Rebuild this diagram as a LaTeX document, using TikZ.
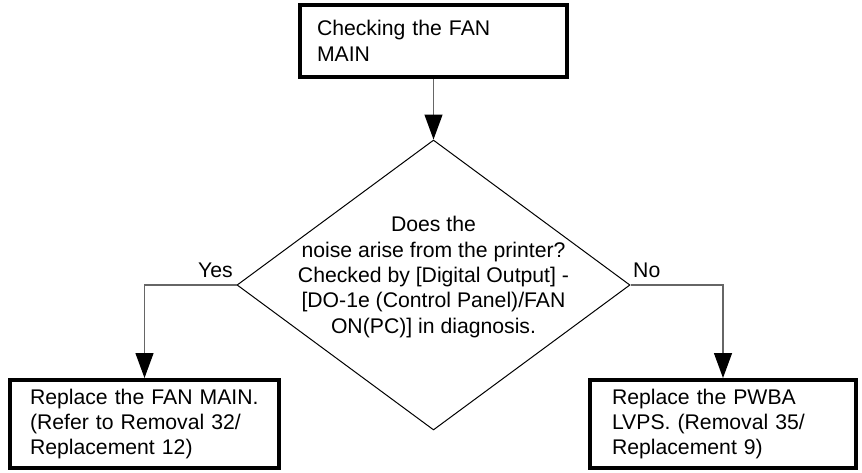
\documentclass[tikz,border=0pt]{standalone}
\usepackage{fontspec}
\setmainfont{Liberation Sans}
\usetikzlibrary{shapes.geometric,arrows.meta}
\begin{document}
\begin{tikzpicture}[x=1pt,y=-1pt,
  txt/.style={font=\fontsize{21.2pt}{25.4pt}\selectfont},
  box/.style={txt, draw=black, line width=4pt, rectangle, align=left, inner ysep=0pt},
  decision/.style={diamond, draw=black, line width=1pt, inner sep=0pt},
  conn/.style={draw=black!60, line width=1.3pt, -{Triangle[length=25pt,width=18pt,color=black]}},
  lbl/.style={txt, inner sep=0pt, anchor=base west}]
\useasboundingbox (0,0) rectangle (862,472);
\node[box, minimum width=267pt, minimum height=72pt, text width=233pt, inner xsep=17pt] (start) at (433.5,41) {Checking the FAN\\MAIN};
\node[decision, minimum width=393pt, minimum height=290pt] (q) at (433.5,285) {};
\node[txt, align=center, inner sep=0pt] (qtext) at (433.5,277) {Does the\\noise arise from the printer?\\Checked by [Digital Output] -\\{}[DO-1e (Control Panel)/FAN\\ON(PC)] in diagnosis.};
\node[box, minimum width=269pt, minimum height=88pt, text width=229pt, inner xsep=20pt] (lbox) at (144.5,424) {Replace the FAN MAIN.\\(Refer to Removal 32/\\Replacement 12)};
\node[box, minimum width=266pt, minimum height=88pt, text width=222pt, inner xsep=22pt] (rbox) at (723,424) {Replace the PWBA\\LVPS. (Removal 35/\\Replacement 9)};
\node[lbl] (yes) at (198,277) {Yes};
\node[lbl] (no) at (633,277) {No};
\draw[conn] (start.south) -- (q.north);
\draw[conn] (q.west) -| (lbox.north);
\draw[conn] (q.east) -| (rbox.north);
\end{tikzpicture}
\end{document}
